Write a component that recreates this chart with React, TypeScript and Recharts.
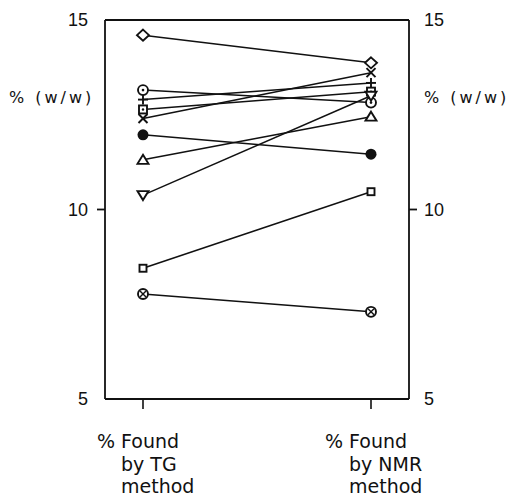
import React from "react";
import {
  LineChart,
  Line,
  XAxis,
  YAxis,
  ReferenceLine,
} from "recharts";

// Two measurement methods compared sample by sample
const methods = ["TG", "NMR"];
const methodLines: Record<string, string[]> = {
  TG: ["% Found", "by TG", "method"],
  NMR: ["% Found", "by NMR", "method"],
};

// One marker style per sample
const samples = [
  "diamond",
  "circleDot",
  "plus",
  "squareDot",
  "cross",
  "filled",
  "triangle",
  "invTriangle",
  "square",
  "circleX",
];
const tgValues = [14.6, 13.15, 12.9, 12.64, 12.4, 11.97, 11.31, 10.38, 8.45, 7.77];
const nmrValues = [13.87, 12.82, 13.34, 13.11, 13.61, 11.46, 12.45, 13.0, 10.47, 7.3];

const yTicks = [5, 10, 15];

const chartData = methods.map((m, i) => {
  const row: Record<string, string | number> = { method: m };
  samples.forEach((s, j) => {
    row[s] = i === 0 ? tgValues[j] : nmrValues[j];
  });
  return row;
});

const INK = "#111";

function Marker({ cx, cy, kind }: { cx: number; cy: number; kind: string }) {
  const sw = 1.9;
  switch (kind) {
    case "diamond":
      return (
        <polygon
          points={`${cx},${cy - 5.5} ${cx + 6},${cy} ${cx},${cy + 5.5} ${cx - 6},${cy}`}
          fill="#fff"
          stroke={INK}
          strokeWidth={sw}
        />
      );
    case "circleDot":
      return (
        <g>
          <circle cx={cx} cy={cy} r={5} fill="#fff" stroke={INK} strokeWidth={sw} />
          <circle cx={cx} cy={cy} r={1.3} fill={INK} />
        </g>
      );
    case "plus":
      return (
        <g stroke={INK} strokeWidth={sw}>
          <line x1={cx - 5} y1={cy} x2={cx + 5} y2={cy} />
          <line x1={cx} y1={cy - 5} x2={cx} y2={cy + 5} />
        </g>
      );
    case "squareDot":
      return (
        <g>
          <rect x={cx - 4} y={cy - 4} width={8} height={8} fill="#fff" stroke={INK} strokeWidth={sw} />
          <circle cx={cx} cy={cy} r={1.2} fill={INK} />
        </g>
      );
    case "cross":
      return (
        <g stroke={INK} strokeWidth={sw}>
          <line x1={cx - 4.5} y1={cy - 4.5} x2={cx + 4.5} y2={cy + 4.5} />
          <line x1={cx - 4.5} y1={cy + 4.5} x2={cx + 4.5} y2={cy - 4.5} />
        </g>
      );
    case "filled":
      return <circle cx={cx} cy={cy} r={5.5} fill={INK} />;
    case "triangle":
      return (
        <polygon
          points={`${cx},${cy - 5} ${cx + 5.5},${cy + 4} ${cx - 5.5},${cy + 4}`}
          fill="#fff"
          stroke={INK}
          strokeWidth={sw}
        />
      );
    case "invTriangle":
      return (
        <polygon
          points={`${cx},${cy + 5} ${cx + 5.5},${cy - 4} ${cx - 5.5},${cy - 4}`}
          fill="#fff"
          stroke={INK}
          strokeWidth={sw}
        />
      );
    case "square":
      return (
        <rect x={cx - 3.5} y={cy - 3.5} width={7} height={7} fill="#fff" stroke={INK} strokeWidth={sw} />
      );
    case "circleX":
      return (
        <g>
          <circle cx={cx} cy={cy} r={5} fill="#fff" stroke={INK} strokeWidth={sw} />
          <line x1={cx - 3} y1={cy - 3} x2={cx + 3} y2={cy + 3} stroke={INK} strokeWidth={1.4} />
          <line x1={cx - 3} y1={cy + 3} x2={cx + 3} y2={cy - 3} stroke={INK} strokeWidth={1.4} />
        </g>
      );
    default:
      return null;
  }
}

const textFont = "'DejaVu Sans', sans-serif";
const numFont = "'Liberation Sans', Arial, sans-serif";

// y tick: number label plus a short stub at the middle value only
function YTick(props: any) {
  const { x, y, payload, side } = props;
  const left = side === "left";
  const stubStart = left ? x + 9 : x - 7;
  const stubEnd = left ? x + 17 : x - 15;
  return (
    <g>
      {payload.value === 10 && (
        <line x1={stubStart} y1={y} x2={stubEnd} y2={y} stroke={INK} strokeWidth={1.8} />
      )}
      <text
        x={x}
        y={y}
        dy="0.36em"
        textAnchor={left ? "end" : "start"}
        fontFamily={numFont}
        fontSize={18}
        fill={INK}
      >
        {payload.value}
      </text>
    </g>
  );
}

function XTick(props: any) {
  const { x, y, payload } = props;
  const lines = methodLines[payload.value] || [];
  return (
    <g fontFamily={textFont} fontSize={19} fill={INK}>
      <text x={x - 46} y={y + 39}>{lines[0]}</text>
      <text x={x - 22} y={y + 62}>{lines[1]}</text>
      <text x={x - 22} y={y + 84}>{lines[2]}</text>
    </g>
  );
}

function UnitLabel({ x, y }: { x: number; y: number }) {
  return (
    <text x={x} y={y} fontFamily={textFont} fontSize={16} letterSpacing={3} fill={INK}>
      % (w/w)
    </text>
  );
}

export default function App() {
  return (
    <div style={{ width: 510, height: 496, background: "#fff" }}>
      <style>{"html,body{margin:0;overflow:hidden;background:#fff}"}</style>
      <LineChart
        width={510}
        height={496}
        data={chartData}
        margin={{ top: 20, right: 0, bottom: 0, left: 0 }}
      >
        <XAxis
          dataKey="method"
          padding={{ left: 38, right: 38 }}
          height={97}
          tickSize={10}
          tickMargin={0}
          axisLine={{ stroke: INK, strokeWidth: 1.8 }}
          tickLine={{ stroke: INK, strokeWidth: 1.6 }}
          tick={<XTick />}
          interval={0}
        />
        <YAxis
          yAxisId="left"
          width={105}
          domain={[5, 15]}
          ticks={yTicks}
          tickSize={8}
          tickMargin={9}
          tickLine={false}
          axisLine={{ stroke: INK, strokeWidth: 1.8 }}
          tick={<YTick side="left" />}
          label={{
            content: (p: any) => <UnitLabel x={p.viewBox.x + 9} y={p.viewBox.y + 83} />,
          }}
        />
        <YAxis
          yAxisId="right"
          orientation="right"
          width={101}
          domain={[5, 15]}
          ticks={yTicks}
          tickSize={8}
          tickMargin={7}
          tickLine={false}
          axisLine={{ stroke: INK, strokeWidth: 1.8 }}
          tick={<YTick side="right" />}
          label={{
            content: (p: any) => <UnitLabel x={p.viewBox.x + 15} y={p.viewBox.y + 83} />,
          }}
        />
        <ReferenceLine yAxisId="left" y={15} stroke={INK} strokeWidth={1.8} />
        {samples.map((s, i) => (
          <Line
            key={s}
            // both axes share the 5–15 domain; one series sits on the right axis so it gets ticks
            yAxisId={i === 0 ? "right" : "left"}
            dataKey={s}
            stroke={INK}
            strokeWidth={1.5}
            isAnimationActive={false}
            dot={(p: any) => <Marker key={`${s}-${p.index}`} cx={p.cx} cy={p.cy} kind={s} />}
            activeDot={false}
          />
        ))}
      </LineChart>
    </div>
  );
}
